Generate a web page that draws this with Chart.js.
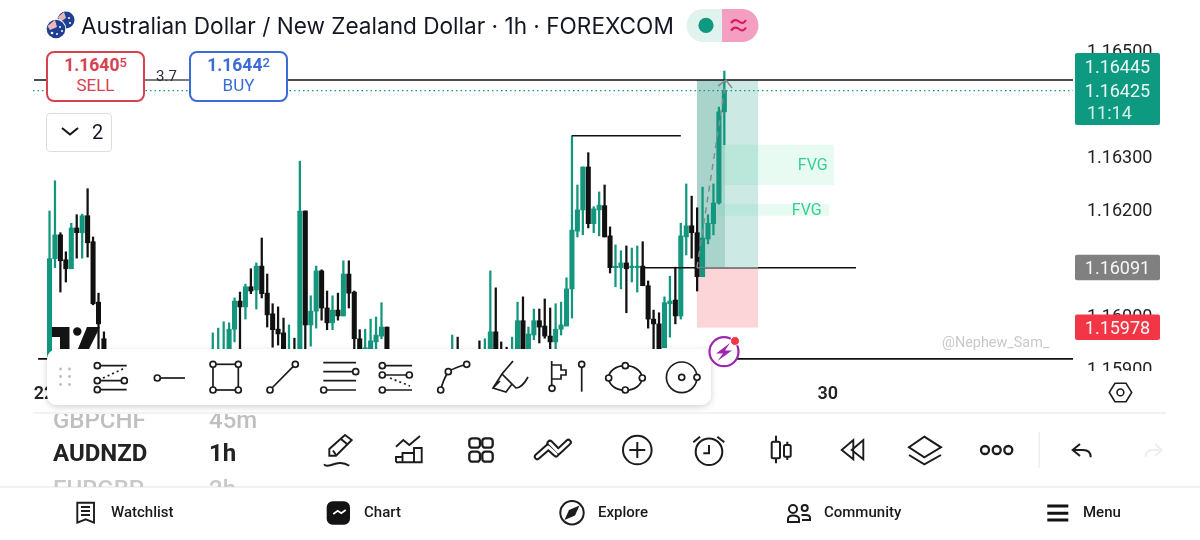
<!DOCTYPE html>
<html>
<head>
<meta charset="utf-8">
<title>AUDNZD 1h</title>
<script src="https://cdn.jsdelivr.net/npm/chart.js@4"></script>
<style>
  html, body { margin: 0; padding: 0; background: #fff; overflow: hidden; }
  #stage { position: relative; width: 1200px; height: 540px; overflow: hidden; font-family: Roboto, sans-serif; color: #131722; }
  #stage canvas, #stage svg { position: absolute; left: 0; top: 0; }
  .t { position: absolute; white-space: nowrap; line-height: 1; }
  .btn { position: absolute; top: 51px; width: 95px; height: 47px; background: #fff; border-radius: 8px; border: 2px solid; text-align: center; }
  .btn .p { display: block; font-size: 17.5px; font-weight: 700; margin-top: 2px; line-height: 20px; }
  .btn .p sup { font-size: 13px; font-weight: 500; line-height: 0; vertical-align: 4px; }
  .btn .s { display: block; font-size: 17px; line-height: 18px; margin-top: 1px; }
  .nav { position: absolute; top: 505px; font-size: 15px; font-weight: 500; line-height: 1; color: #1a1a1a; }
  #symbols { position: absolute; left: 0; top: 414px; width: 320px; height: 73px; overflow: hidden; }
  #symbols .t { font-size: 24px; }
</style>
</head>
<body>
<div id="stage">
  <canvas id="chart" width="1200" height="540"></canvas>

  <svg width="1200" height="540" viewBox="0 0 1200 540" fill="none" stroke="#1c1c1c" stroke-width="1.9">
    <defs>
      <filter id="panelShadow" x="-5%" y="-20%" width="110%" height="150%">
        <feDropShadow dx="0" dy="2" stdDeviation="3" flood-color="#000" flood-opacity="0.18"/>
      </filter>
    </defs>

    <!-- exchange logo behind the drawing toolbar -->
    <g fill="#131313" stroke="none">
      <path d="M52 327H69.5V350H60V337H52Z"/>
      <circle cx="77.3" cy="331.5" r="4.2"/>
      <path d="M87 327H100L88.5 350H77.5Z"/>
    </g>

    <!-- drawing toolbar -->
    <rect x="47" y="349" width="664" height="56" rx="10" fill="#fff" stroke="none" filter="url(#panelShadow)"/>
    <g fill="#bbb" stroke="none">
      <circle cx="60.5" cy="369" r="1.4"/><circle cx="69.5" cy="369" r="1.4"/>
      <circle cx="60.5" cy="376.5" r="1.4"/><circle cx="69.5" cy="376.5" r="1.4"/>
      <circle cx="60.5" cy="384.5" r="1.4"/><circle cx="69.5" cy="384.5" r="1.4"/>
    </g>
    <g fill="#fff" stroke-width="1.7">
      <!-- fib retracement -->
      <path d="M100 365.7H126.7M100 380.7H121M100 389.7H126.7"/>
      <path d="M103 378L125 368" stroke-dasharray="2 3"/>
      <circle cx="97.3" cy="365.7" r="3"/><circle cx="97.3" cy="380.7" r="3"/><circle cx="124.3" cy="380.7" r="3"/><circle cx="97.3" cy="389.7" r="3"/>
      <!-- horizontal ray -->
      <path d="M160 378H185"/><circle cx="157.3" cy="378" r="3"/>
      <!-- rectangle -->
      <rect x="213" y="364.3" width="25.3" height="25.7" fill="none"/>
      <circle cx="213" cy="364.3" r="3"/><circle cx="238.3" cy="364.3" r="3"/><circle cx="213" cy="390" r="3"/><circle cx="238.3" cy="390" r="3"/>
      <!-- trend line -->
      <path d="M270 390L295.3 364.3"/><circle cx="270" cy="390" r="3"/><circle cx="295.3" cy="364.3" r="3"/>
      <!-- parallel channel -->
      <path d="M323.3 362.7H356M323.3 371.7H353M323.3 380.7H356M326 390H356"/>
      <circle cx="355.7" cy="371.7" r="3"/><circle cx="323.7" cy="390" r="3"/>
      <!-- fib variant -->
      <path d="M385 365.7H412M385 375H407M385 390H412"/>
      <path d="M390 378L410 386" stroke-dasharray="2 3"/>
      <circle cx="382.3" cy="365.7" r="3"/><circle cx="382.3" cy="375" r="3"/><circle cx="409.3" cy="375" r="3"/><circle cx="382.3" cy="390" r="3"/>
      <!-- path -->
      <path d="M440.7 390Q443 380 448.3 371.7Q456 367 466.7 364.3" fill="none"/>
      <circle cx="440.7" cy="390" r="3"/><circle cx="448.3" cy="371.7" r="3"/><circle cx="466.7" cy="364.3" r="3"/>
      <!-- highlighter -->
      <path d="M513 361L502 374L493 388L506 392L512 384L516 388Q522 388 528 377M502 374L516 388M493 388L500 381" fill="none"/>
      <!-- flag and pin -->
      <path d="M551.7 361V385M551.7 365H561V370H566V375H561V379H551.7" fill="none"/>
      <circle cx="552" cy="388.3" r="3"/>
      <path d="M581.7 367V391.7"/><circle cx="581.7" cy="364.3" r="3"/>
      <!-- ellipse -->
      <ellipse cx="625.3" cy="378" rx="16.7" ry="12.3" fill="none"/>
      <circle cx="625.3" cy="365.7" r="3"/><circle cx="608.7" cy="378" r="3"/><circle cx="642.3" cy="378" r="3"/><circle cx="625.3" cy="390" r="3"/>
      <!-- circle -->
      <circle cx="681.7" cy="377.3" r="15.3" fill="none"/>
      <circle cx="681.7" cy="377.3" r="3"/><circle cx="697" cy="377.3" r="3"/>
    </g>

    <!-- replay bolt badge -->
    <circle cx="724" cy="351.7" r="14.5" stroke="#9c27b0" stroke-width="2.2" fill="#fff"/>
    <path d="M730 343L716 353.5H723L717.5 361L732 350.5H725Z" fill="#9c27b0" stroke="none"/>
    <circle cx="735" cy="341" r="4.5" fill="#f23645" stroke="#fff" stroke-width="1"/>

    <!-- header flag pair -->
    <circle cx="66" cy="20" r="8.5" fill="#1f3f92" stroke="none"/>
    <path d="M58 17L64 12L66 18L60 22Z" fill="#e9b7b7" stroke="none"/>
    <circle cx="56" cy="29" r="10.3" fill="#fff" stroke="none"/>
    <circle cx="56" cy="29" r="9.3" fill="#1f3f92" stroke="none"/>
    <path d="M47.5 26L55 20L57 27L50 30Z" fill="#eeb9bc" stroke="none"/>
    <g fill="#fff" stroke="none">
      <circle cx="60" cy="27" r="1"/><circle cx="62" cy="31" r="1"/><circle cx="57" cy="34" r="1"/><circle cx="52" cy="33" r="1.3"/><circle cx="69" cy="18" r="1"/><circle cx="70" cy="23" r="1"/>
    </g>

    <!-- market status pill -->
    <path d="M722 9H703A16.5 16.5 0 0 0 703 42H722Z" fill="#e0f3ef" stroke="none"/>
    <path d="M722 9H742A16.5 16.5 0 0 1 742 42H722Z" fill="#f49fc1" stroke="none"/>
    <circle cx="706" cy="25.4" r="7.6" fill="#0e9a80" stroke="none"/>
    <path d="M731 23Q735 18 739 21.5T746 20M731 30.5Q735 25.5 739 29T746 27.5" stroke="#d81b60" stroke-width="2.2"/>

    <!-- sell/buy spread link -->
    <path d="M144 80H190" stroke="#8a8a8a" stroke-width="1.6"/>

    <!-- settings hexagon -->
    <path d="M1109.3 392.4L1115 383.3H1126L1131.7 392.4L1126 401.7H1115Z" stroke-width="1.6"/>
    <circle cx="1120.4" cy="392.4" r="3.4" stroke-width="1.6"/>

    <!-- panel rules -->
    <path d="M33 413H1166" stroke="#eeeeee" stroke-width="1.5"/>
    <path d="M0 487H1200" stroke="#eeeeee" stroke-width="1.5"/>
    <path d="M1039.3 432V468" stroke="#eeeeee" stroke-width="1.5"/>

    <!-- main action row -->
    <path d="M329.3 455.7V449L345 435L351.7 440L336 455.7Z"/>
    <path d="M340.5 438.5L347.5 444.5M333 450.5L336 455"/>
    <path d="M324 464.3C328 470 337 458 349.3 465.7"/>
    <path d="M396 446.7L403.3 440L409.3 445L420 436"/>
    <path d="M396 462.3H421.7V448H414V462.3M414 453H402.5V462.3M402.5 457H396V462.3"/>
    <rect x="469.3" y="438.3" width="10.7" height="9.4" rx="3" stroke-width="2.3"/><rect x="482.3" y="438.3" width="10.4" height="9.4" rx="3" stroke-width="2.3"/>
    <rect x="469.3" y="451.7" width="10.7" height="10" rx="3" stroke-width="2.3"/><rect x="482.3" y="451.7" width="10.4" height="10" rx="3" stroke-width="2.3"/>
    <path d="M537.3 456.7L548.3 447L556 454" stroke-width="7" stroke-linecap="round" stroke-linejoin="round"/>
    <path d="M550 443.3L558.3 451.7L568.3 442.3" stroke-width="7" stroke-linecap="round" stroke-linejoin="round"/>
    <path d="M537.3 456.7L548.3 447L556 454" stroke="#fff" stroke-width="3" stroke-linecap="round" stroke-linejoin="round"/>
    <path d="M550 443.3L558.3 451.7L568.3 442.3" stroke="#fff" stroke-width="3" stroke-linecap="round" stroke-linejoin="round"/>
    <circle cx="637.3" cy="450" r="14.3" stroke-width="2"/>
    <path d="M637.3 442V458M629.3 450H645.3" stroke-width="2"/>
    <circle cx="709" cy="451.7" r="13.3" stroke-width="2"/>
    <path d="M709 445V453.3H703.3M693.3 442.3L700 436.7M717.3 436.7L724.3 442.3" stroke-width="2"/>
    <path d="M776 435.7V441.7M776 458.3V463.3M787.3 441.7V445M787.3 456.7V460" stroke-width="2"/>
    <rect x="771.7" y="441.7" width="8.3" height="16.6" rx="1.5" stroke-width="2"/>
    <rect x="784" y="445" width="6.7" height="11.7" rx="1.5" stroke-width="2"/>
    <path d="M853.3 440V459.3L841.7 450ZM863.3 440V459.3L851.7 450Z"/>
    <path d="M924.3 436.7L941 447.3L924.3 457.3L909 447.3ZM909 455L924.3 464.3L941 455" stroke-width="2"/>
    <circle cx="985" cy="450" r="4" stroke-width="2.3"/><circle cx="996.7" cy="450" r="4" stroke-width="2.3"/><circle cx="1008.3" cy="450" r="4" stroke-width="2.3"/>
    <path d="M1080 444L1072.7 450L1080 456M1072.7 450H1083Q1090.7 450 1090.7 457.3" stroke-width="2"/>
    <path d="M1155 444L1161.7 450L1155 456M1161.7 450H1152Q1145.7 450 1145.7 457.3" stroke="#eeeeee" stroke-width="2"/>

    <!-- bottom navigation icons -->
    <path d="M77.3 502.7H94V522.7L85.7 519.3L77.3 522.7Z"/>
    <path d="M81 507H90M81 511H90M81 515H90"/>
    <rect x="326.7" y="501.3" width="23.3" height="23.4" rx="6" fill="#131313" stroke="none"/>
    <path d="M333.3 514L337.7 510.7L341.3 513.3L345.7 510" stroke="#fff" stroke-width="1.7"/>
    <circle cx="572" cy="512.7" r="11.7" stroke-width="2"/>
    <path d="M579.5 505.5L575 515.5L564.5 520L569 510Z" fill="#1c1c1c" stroke="none"/>
    <circle cx="793" cy="509" r="4" stroke-width="2"/>
    <path d="M788 522V519Q788 515.5 793 515.5Q799 515.5 799 519V522Z" stroke-width="2"/>
    <circle cx="804.7" cy="508" r="3" stroke-width="2"/>
    <path d="M801.5 515H806Q810 515 810 518V520H802" stroke-width="2"/>
    <path d="M1047.3 506H1068.3M1047.3 513.3H1068.3M1047.3 520H1068.3" stroke="#131313" stroke-width="3"/>
    <path d="M62 128L70 134.5L78 128" stroke="#131313" stroke-width="2"/>
  </svg>

  <!-- header -->
  <div class="t" style="left:81px;top:15px;font-family:Inter,sans-serif;font-size:22.6px;">Australian Dollar / New Zealand Dollar · 1h · FOREXCOM</div>

  <div class="btn" style="left:46px;border-color:#d8414f;color:#d8414f;">
    <span class="p">1.1640<sup>5</sup></span><span class="s">SELL</span>
  </div>
  <div class="t" style="left:156px;top:69px;font-size:15px;color:#2a2e39;">3.7</div>
  <div class="btn" style="left:189px;border-color:#3a6bd6;color:#3a6bd6;">
    <span class="p">1.1644<sup>2</sup></span><span class="s">BUY</span>
  </div>

  <div class="t" style="left:46px;top:113px;width:64px;height:37px;border:1px solid #dddddd;border-radius:4px;"></div>
  <div class="t" style="left:92px;top:122px;font-size:20px;">2</div>

  <div class="t" style="left:942px;top:336px;font-size:14.4px;color:#c9c9c9;">@Nephew_Sam_</div>

  <!-- symbol picker wheel -->
  <div id="symbols">
    <div class="t" style="left:53px;top:-6px;color:#bfbfbf;font-weight:500;">GBPCHF</div>
    <div class="t" style="left:209px;top:-6px;color:#bfbfbf;font-weight:500;">45m</div>
    <div class="t" style="left:53px;top:27px;font-weight:700;color:#222;">AUDNZD</div>
    <div class="t" style="left:209px;top:27px;font-weight:700;color:#222;">1h</div>
    <div class="t" style="left:53px;top:63px;color:#c9c9c9;font-weight:500;">EURGBP</div>
    <div class="t" style="left:209px;top:63px;color:#c9c9c9;font-weight:500;">2h</div>
  </div>

  <div class="nav" style="left:111px;">Watchlist</div>
  <div class="nav" style="left:364px;">Chart</div>
  <div class="nav" style="left:598px;">Explore</div>
  <div class="nav" style="left:824px;">Community</div>
  <div class="nav" style="left:1083px;">Menu</div>
</div>

<script>
const _ = null; // candle sits below the visible part of the pane

const opens = [
  1.15923, 1.16108, 1.16153, 1.16106, 1.16089, 1.16166, 1.16157, 1.16189, 1.16140, 1.16026,
  1.15957, _, _, _, _, _, _, _, _, _,
  _, _, _, _, _, _, _, _, _, _,
  1.15923, 1.15923, 1.15923, 1.15932, 1.15975, 1.16028, 1.16017, 1.16055, 1.16049, 1.16094,
  1.16043, 1.16004, 1.15975, 1.15968, 1.15923, 1.15932, 1.15921, 1.16198, 1.15983, 1.16009,
  1.16085, 1.16015, 1.15987, 1.16011, 1.16000, 1.16079, 1.16045, 1.15957, 1.15936, 1.15932,
  1.15951, 1.15962, 1.15979, _, _, _, _, _, _, _,
  _, _, _, _, 1.15923, 1.15932, _, _, _, 1.15932,
  1.15923, 1.15932, 1.15970, 1.15932, 1.15932, 1.15923, 1.15932, 1.15991, 1.15932, 1.15964,
  1.15991, 1.15981, 1.15962, 1.15951, 1.15975, 1.15981, 1.16051, 1.16160, 1.16200, 1.16281,
  1.16174, 1.16200, 1.16208, 1.16151, 1.16091, 1.16091, 1.16100, 1.16091, 1.16091, 1.16094,
  1.16057, 1.15994, 1.15985, 1.15940, 1.16023, 1.16030, 1.16000, 1.16149, 1.16170, 1.16157,
  1.16074, 1.16145, 1.16174, 1.16213, 1.16385
];
const closes = [
  1.16108, 1.16153, 1.16104, 1.16089, 1.16166, 1.16157, 1.16189, 1.16138, 1.16023, 1.15985,
  1.15926, _, _, _, _, _, _, _, _, _,
  _, _, _, _, _, _, _, _, _, _,
  1.15930, 1.15930, 1.15930, 1.15975, 1.16028, 1.16017, 1.16055, 1.16047, 1.16094, 1.16042,
  1.16002, 1.15974, 1.15966, 1.15932, 1.15930, 1.15926, 1.16198, 1.15983, 1.16009, 1.16085,
  1.16015, 1.15987, 1.16011, 1.16000, 1.16079, 1.16043, 1.15957, 1.15932, 1.15940, 1.15953,
  1.15964, 1.15979, 1.15932, _, _, _, _, _, _, _,
  _, _, _, _, 1.15930, 1.15926, _, _, _, 1.15926,
  1.15930, 1.15970, 1.15932, 1.15926, 1.15926, 1.15930, 1.15991, 1.15932, 1.15966, 1.15991,
  1.15979, 1.15962, 1.15951, 1.15975, 1.15983, 1.16051, 1.16162, 1.16200, 1.16281, 1.16174,
  1.16202, 1.16209, 1.16149, 1.16091, 1.16092, 1.16100, 1.16089, 1.16094, 1.16094, 1.16057,
  1.15994, 1.15985, 1.15932, 1.16025, 1.16028, 1.16000, 1.16151, 1.16170, 1.16157, 1.16074,
  1.16147, 1.16175, 1.16213, 1.16385, 1.16425
];
const highs = [
  1.16198, 1.16255, 1.16157, 1.16121, 1.16175, 1.16191, 1.16192, 1.16240, 1.16149, 1.16043,
  1.15970, _, _, _, _, _, _, _, _, _,
  _, _, _, _, _, _, _, _, _, _,
  1.15968, 1.15977, 1.15989, 1.15987, 1.16034, 1.16045, 1.16060, 1.16089, 1.16100, 1.16147,
  1.16079, 1.16023, 1.16017, 1.15996, 1.15983, 1.15958, 1.16292, 1.16198, 1.16038, 1.16094,
  1.16087, 1.16047, 1.16038, 1.16043, 1.16104, 1.16104, 1.16047, 1.15974, 1.15975, 1.15994,
  1.15998, 1.16025, 1.15979, _, _, _, _, _, _, _,
  _, _, _, _, 1.15964, 1.15960, _, _, _, 1.15953,
  1.15957, 1.16085, 1.16053, 1.15951, 1.15941, 1.15960, 1.16026, 1.16036, 1.15979, 1.16013,
  1.16013, 1.16032, 1.16015, 1.16023, 1.16026, 1.16072, 1.16340, 1.16247, 1.16281, 1.16308,
  1.16206, 1.16234, 1.16247, 1.16168, 1.16134, 1.16123, 1.16132, 1.16128, 1.16132, 1.16140,
  1.16066, 1.16011, 1.16006, 1.16036, 1.16075, 1.16092, 1.16175, 1.16249, 1.16226, 1.16204,
  1.16243, 1.16191, 1.16249, 1.16394, 1.16462
];
const lows = [
  1.15923, 1.16091, 1.16045, 1.16064, 1.16089, 1.16109, 1.16109, 1.16111, 1.16021, 1.15932,
  1.15921, _, _, _, _, _, _, _, _, _,
  _, _, _, _, _, _, _, _, _, _,
  1.15921, 1.15921, 1.15921, 1.15926, 1.15951, 1.15936, 1.15994, 1.16042, 1.16013, 1.16034,
  1.15979, 1.15941, 1.15945, 1.15926, 1.15921, 1.15921, 1.15921, 1.15932, 1.15943, 1.15977,
  1.15992, 1.15974, 1.15974, 1.15992, 1.16000, 1.16015, 1.15936, 1.15926, 1.15932, 1.15926,
  1.15932, 1.15957, 1.15926, _, _, _, _, _, _, _,
  _, _, _, _, 1.15921, 1.15921, _, _, _, 1.15921,
  1.15921, 1.15926, 1.15926, 1.15921, 1.15921, 1.15921, 1.15926, 1.15926, 1.15926, 1.15955,
  1.15949, 1.15958, 1.15932, 1.15932, 1.15964, 1.15981, 1.15996, 1.16149, 1.16153, 1.16166,
  1.16157, 1.16151, 1.16149, 1.16081, 1.16055, 1.16051, 1.16006, 1.16064, 1.16045, 1.16057,
  1.15977, 1.15932, 1.15926, 1.15940, 1.15960, 1.15985, 1.15994, 1.16115, 1.16109, 1.16047,
  1.16074, 1.16136, 1.16153, 1.16211, 1.16323
];

// price axis and time axis
const priceTicks = [1.159, 1.16, 1.161, 1.162, 1.163, 1.164, 1.165];
const dayTickCandles = [-1, 143];
const dayTickLabels = ['22', '30'];

// horizontal levels: [first candle, last candle, price]
const xMin = -9.1, xMax = 188.07;
const blackLevels = [
  [-2.85, xMax, 1.16445],
  [-2.1, xMax, 1.15919],
  [96, 116, 1.1634],
  [108.9, 148.2, 1.16091]
];
const lastPrice = 1.16425;

// long position tool
const entryPrice = 1.16091, targetPrice = 1.16445, stopPrice = 1.15978;
const positionCandles = [118.97, 124.13, 130.2];

// fair value gaps: [first candle, last candle, upper, lower, label centre candle]
const gapCandles = [[123.8, 144.15, 1.16323, 1.16247, 140.25], [122.65, 143.25, 1.16211, 1.16189, 139.15]];

// right edge tags: [text, price of centre, colour]
const priceTags = [['1.16091', 1.16091, '#808080'], ['1.15978', 1.15978, '#f23645']];
const countdown = '11:14';

const UP = '#12967e', DOWN = '#111111';
const candleColor = c => (c.raw.up ? UP : DOWN);

const visible = opens.map((o, i) => i).filter(i => opens[i] !== null);

const bodies = visible.map(i => ({ x: i, y: [opens[i], closes[i]], up: closes[i] >= opens[i] }));
const wicks = visible.map(i => ({ x: i, y: [lows[i], highs[i]], up: closes[i] >= opens[i] }));

// level lines and the position/FVG boxes, all placed through the scales
const drawings = {
  id: 'drawings',
  beforeDatasetsDraw(chart) {
    const { ctx, scales: { x, y } } = chart;
    const [pos0, pos1, pos2] = positionCandles.map(v => x.getPixelForValue(v));
    const top = y.getPixelForValue(targetPrice);
    const entry = y.getPixelForValue(entryPrice);
    const stop = y.getPixelForValue(stopPrice);
    ctx.save();
    ctx.fillStyle = 'rgba(18,150,126,0.21)';
    ctx.fillRect(pos0, top, pos2 - pos0, entry - top);
    ctx.fillStyle = 'rgba(18,130,110,0.2)';
    ctx.fillRect(pos0, top, pos1 - pos0, entry - top);
    ctx.fillStyle = '#fbd5d8';
    ctx.fillRect(pos0, entry, pos2 - pos0, stop - entry);
    ctx.fillStyle = 'rgba(46,220,140,0.11)';
    gapCandles.forEach(g => {
      const gx = x.getPixelForValue(g[0]);
      const gy = y.getPixelForValue(g[2]);
      ctx.fillRect(gx, gy, x.getPixelForValue(g[1]) - gx, y.getPixelForValue(g[3]) - gy);
    });
    ctx.restore();
  },
  afterDatasetsDraw(chart) {
    const { ctx, scales: { x, y } } = chart;
    ctx.save();
    ctx.strokeStyle = '#111';
    ctx.lineWidth = 1.6;
    blackLevels.forEach(l => {
      const py = y.getPixelForValue(l[2]);
      ctx.beginPath();
      ctx.moveTo(x.getPixelForValue(l[0]), py);
      ctx.lineTo(x.getPixelForValue(l[1]), py);
      ctx.stroke();
    });

    // entry edge of the position box reads grey over the level
    const ey = y.getPixelForValue(entryPrice);
    ctx.strokeStyle = '#858585';
    ctx.beginPath();
    ctx.moveTo(x.getPixelForValue(positionCandles[0]), ey);
    ctx.lineTo(x.getPixelForValue(positionCandles[2]), ey);
    ctx.stroke();

    // last price, dotted
    const ly = y.getPixelForValue(lastPrice);
    ctx.strokeStyle = '#12967e';
    ctx.lineWidth = 1.2;
    ctx.setLineDash([1.5, 3]);
    ctx.beginPath();
    ctx.moveTo(33, ly);
    ctx.lineTo(x.right, ly);
    ctx.stroke();

    // dashed target arrow
    const ax0 = x.getPixelForValue(positionCandles[0]);
    const ax1 = x.getPixelForValue(124.3);
    const ay1 = y.getPixelForValue(targetPrice);
    ctx.strokeStyle = '#7f8f8c';
    ctx.lineWidth = 1.5;
    ctx.setLineDash([6, 5]);
    ctx.beginPath();
    ctx.moveTo(ax0, ey);
    ctx.lineTo(ax1, ay1);
    ctx.stroke();
    ctx.setLineDash([]);
    ctx.beginPath();
    ctx.moveTo(ax1 - 8, ay1 + 6);
    ctx.lineTo(ax1, ay1);
    ctx.lineTo(ax1 + 6, ay1 + 8);
    ctx.stroke();

    // FVG captions
    ctx.fillStyle = '#35cf95';
    ctx.font = '16px Roboto, sans-serif';
    ctx.textAlign = 'center';
    ctx.textBaseline = 'middle';
    gapCandles.forEach(g => {
      ctx.fillText('FVG', x.getPixelForValue(g[4]), y.getPixelForValue((g[2] + g[3]) / 2) + 1.5);
    });
    ctx.restore();
  },
  afterDraw(chart) {
    const { ctx, scales: { x, y } } = chart;
    const left = x.right + 2, width = 85;
    ctx.save();

    // lowest tick label is cut off where the time axis begins
    ctx.fillStyle = '#fff';
    ctx.fillRect(x.right + 1, 371, 126, 9);

    const label = (text, cy, color) => {
      ctx.fillStyle = color;
      ctx.fillText(text, left + width / 2, cy + 2);
    };
    ctx.font = '18px Roboto, sans-serif';
    ctx.textAlign = 'center';
    ctx.textBaseline = 'middle';

    // combined target + last price + countdown tag
    const ty = y.getPixelForValue(targetPrice);
    const my = y.getPixelForValue(lastPrice);
    ctx.fillStyle = '#0e9a80';
    ctx.beginPath();
    ctx.roundRect(left, ty - 27, width, 72, 2);
    ctx.fill();
    label('1.16445', ty - 14, '#eaf7f4');
    label('1.16425', my, '#eaf7f4');
    ctx.textAlign = 'left';
    ctx.fillStyle = '#d4efe9';
    ctx.fillText(countdown, left + 12, my + 24);
    ctx.textAlign = 'center';

    priceTags.forEach(t => {
      const cy = y.getPixelForValue(t[1]);
      ctx.fillStyle = t[2];
      ctx.beginPath();
      ctx.roundRect(left, cy - 13, width, 25.5, 2);
      ctx.fill();
      label(t[0], cy, '#f6f6f6');
    });
    ctx.restore();
  }
};

// axis labels may overhang the pane, so drop the margins the scales reserve for them
const noPadding = scale => {
  scale.paddingTop = scale.paddingBottom = scale.paddingLeft = scale.paddingRight = 0;
};

new Chart(document.getElementById('chart'), {
  type: 'bar',
  plugins: [drawings],
  data: {
    datasets: [
      { data: bodies, barThickness: 4.4, minBarLength: 1.5, backgroundColor: candleColor, borderWidth: 0, grouped: false },
      { data: wicks, barThickness: 1.6, backgroundColor: candleColor, borderWidth: 0, grouped: false }
    ]
  },
  options: {
    responsive: false,
    animation: false,
    layout: { padding: 0 },
    plugins: { legend: { display: false }, tooltip: { enabled: false } },
    scales: {
      x: {
        type: 'linear',
        offset: false,
        min: xMin,
        max: xMax,
        grid: { display: false, drawTicks: false },
        border: { display: false },
        afterFit(scale) { scale.height = 170; noPadding(scale); },
        afterBuildTicks(scale) { scale.ticks = dayTickCandles.map(v => ({ value: v })); },
        ticks: {
          autoSkip: false,
          maxRotation: 0,
          padding: 14,
          color: '#222222',
          font: { family: 'Roboto, sans-serif', size: 18, weight: '600' },
          callback: v => dayTickLabels[dayTickCandles.indexOf(v)]
        }
      },
      y: {
        position: 'right',
        min: 1.15898,
        max: 1.16596,
        grid: { display: false, drawTicks: false },
        border: { display: false },
        afterFit(scale) { scale.width = 127; noPadding(scale); },
        afterBuildTicks(scale) { scale.ticks = priceTicks.map(v => ({ value: v })); },
        ticks: {
          padding: 14,
          labelOffset: 2,
          color: '#222222',
          font: { family: 'Roboto, sans-serif', size: 18 },
          callback: v => v.toFixed(5)
        }
      }
    }
  }
});
</script>
</body>
</html>
